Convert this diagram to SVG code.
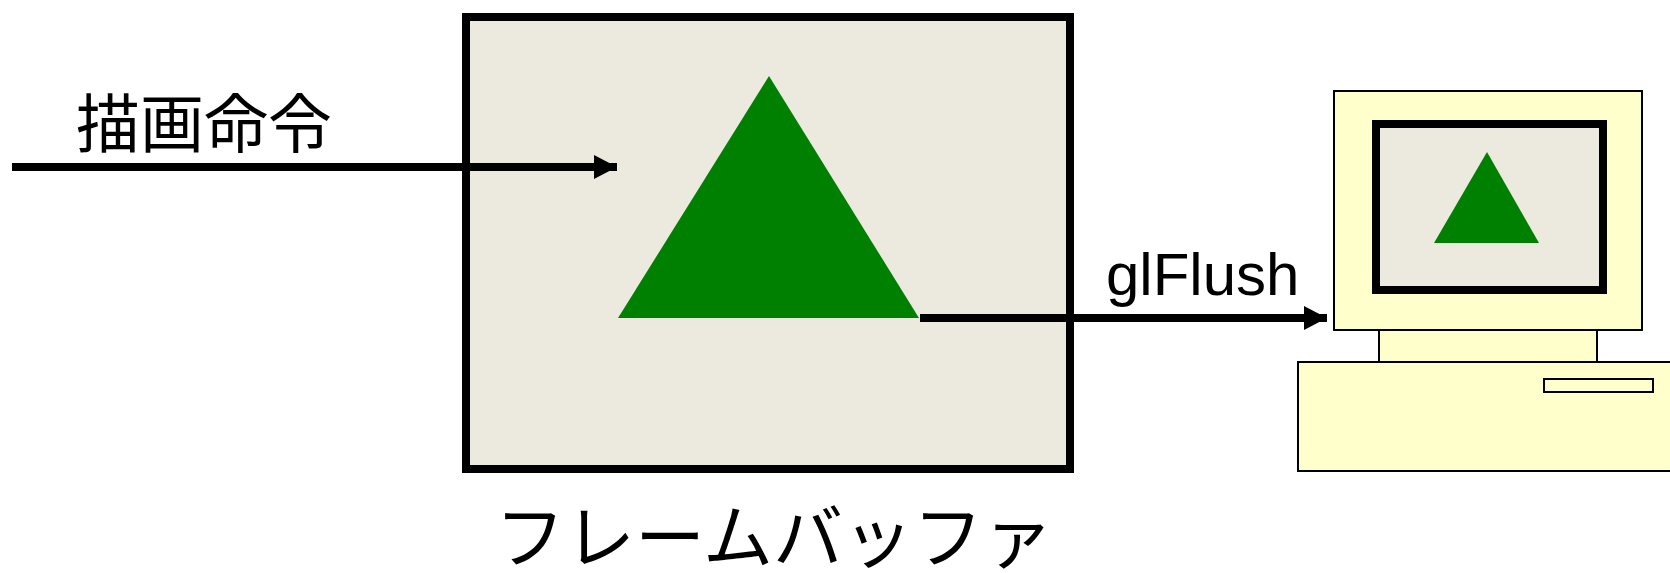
<svg xmlns="http://www.w3.org/2000/svg" width="1670" height="573" viewBox="0 0 1670 573">
<style>
.pc{fill:#ffffcc;stroke:#000;stroke-width:2}
.fb{fill:#ecead f}
.tri{fill:#008000}
.conn{fill:none;stroke:#000;stroke-width:8}
.jp{font-family:"Noto Sans CJK JP","Liberation Sans",sans-serif;fill:#000}
.en{font-family:"Liberation Sans",Arial,sans-serif;fill:#000}
</style>
<defs><marker id="ah" markerUnits="userSpaceOnUse" markerWidth="24" markerHeight="24" refX="23" refY="12" orient="auto"><path d="M0 0L23 12L0 24Z" fill="#000"/></marker></defs>
<rect width="1670" height="573" fill="#fff"/>
<g id="framebuffer">
<rect x="466" y="17" width="604" height="452" fill="#ecead f" style="fill:#eceadf" stroke="#000" stroke-width="8"/>
<polygon class="tri" points="769,76 618,318 919,318"/>
</g>
<g id="framebuffer-label"><text class="jp" x="774" y="563" font-size="70" text-anchor="middle">フレームバッファ</text></g>
<g id="cmd-label"><text class="jp" x="204" y="147" font-size="64" text-anchor="middle">描画命令</text></g>
<g id="flush-label"><text class="en" x="1106" y="295" font-size="60">glFlush</text></g>
<g id="computer">
<rect class="pc" x="1379" y="320" width="218" height="50"/>
<rect class="pc" x="1334" y="91" width="308" height="239"/>
<rect x="1376" y="124" width="227" height="166" fill="#eceadf" stroke="#000" stroke-width="8"/>
<polygon class="tri" points="1487,152 1434,243 1539,243"/>
<rect class="pc" x="1298" y="362" width="380" height="109"/>
<rect class="pc" x="1544" y="379" width="109" height="13"/>
</g>
<g id="connectors">
<line class="conn" x1="12" y1="167" x2="617" y2="167" marker-end="url(#ah)"/>
<line class="conn" x1="920" y1="318" x2="1327" y2="318" marker-end="url(#ah)"/>
</g>
</svg>
